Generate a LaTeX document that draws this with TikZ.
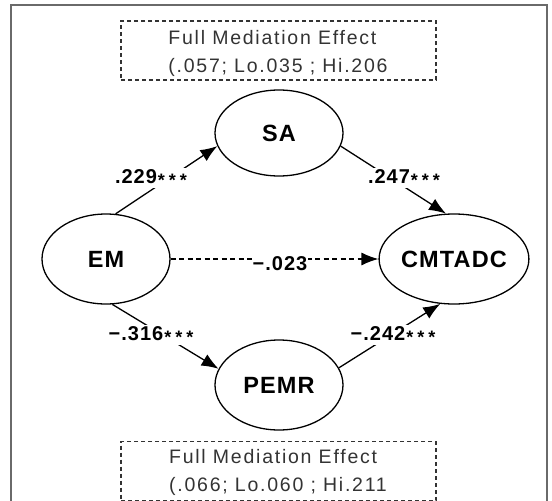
\documentclass[tikz,border=0pt]{standalone}
\usepackage{fontspec}
\setmainfont{Liberation Sans}
\usetikzlibrary{shapes.geometric,arrows.meta}
\newfontfamily\regfont[LetterSpace=9]{Liberation Sans}
\newfontfamily\boldfont[LetterSpace=5]{Liberation Sans Bold}
\definecolor{framegray}{HTML}{6A6A6A}
\definecolor{txtgray}{HTML}{333333}
\tikzset{
  latent/.style={ellipse, draw=black, line width=1.3pt, minimum width=128pt, minimum height=90pt, inner sep=0pt, font=\boldfont\fontsize{23.5}{25}\selectfont},
  effbox/.style={draw=txtgray, dashed, dash pattern=on 4pt off 3pt, line width=1.3pt, minimum width=315pt, minimum height=59pt, inner sep=0pt},
  efftext/.style={inner sep=0pt, align=left, text=txtgray, font=\regfont\fontsize{19.5}{28}\selectfont},
  path/.style={line width=1.3pt, -{Latex[length=17pt,width=13pt]}},
  coef/.style={fill=white, inner sep=1pt, font=\boldfont\fontsize{20}{22}\selectfont},
}
\newcommand{\onestar}{\raisebox{-3.4pt}{\fontsize{18}{18}\selectfont *}}
\newcommand{\stars}{\hspace{1pt}\onestar\hspace{4pt}\onestar\hspace{4pt}\onestar}
\begin{document}
\begin{tikzpicture}[x=1pt,y=-1pt]
\useasboundingbox (0,0) rectangle (552,501);
\clip (0,0) rectangle (552,501);
\fill[white] (0,0) rectangle (552,501);
\draw[framegray, line width=2pt] (10.5,5) rectangle (547,530);

\node[effbox] (topbox) at (278.5,50.5) {};
\node[efftext] (toptext) at (278,53) {Full Mediation Effect\\(.057; Lo.035 ; Hi.206};
\node[effbox] (botbox) at (278.5,471) {};
\node[efftext] (bottext) at (278,472.5) {Full Mediation Effect\\(.066; Lo.060 ; Hi.211};

\node[latent, minimum height=86pt] (sa) at (279,133) {SA};
\node[latent] (em) at (106,259) {EM};
\node[latent] (cmt) at (454,259) {CMTADC};
\node[latent] (pemr) at (279,385) {PEMR};

\draw[path] (em.78) -- (sa.192);
\draw[path] (sa.348) -- (cmt.100);
\draw[path, dashed, dash pattern=on 5pt off 3.5pt] (em.east) -- (cmt.west);
\draw[path] (em.278) -- (pemr.165);
\draw[path] (pemr.16) -- (cmt.253);

\node[coef] (c1) at (151,178) {.229\stars};
\node[coef] (c2) at (404,178) {.247\stars};
\node[coef] (c3) at (280,264) {−.023};
\node[coef] (c4) at (151,335) {−.316\stars};
\node[coef] (c5) at (393,335) {−.242\stars};
\end{tikzpicture}
\end{document}
